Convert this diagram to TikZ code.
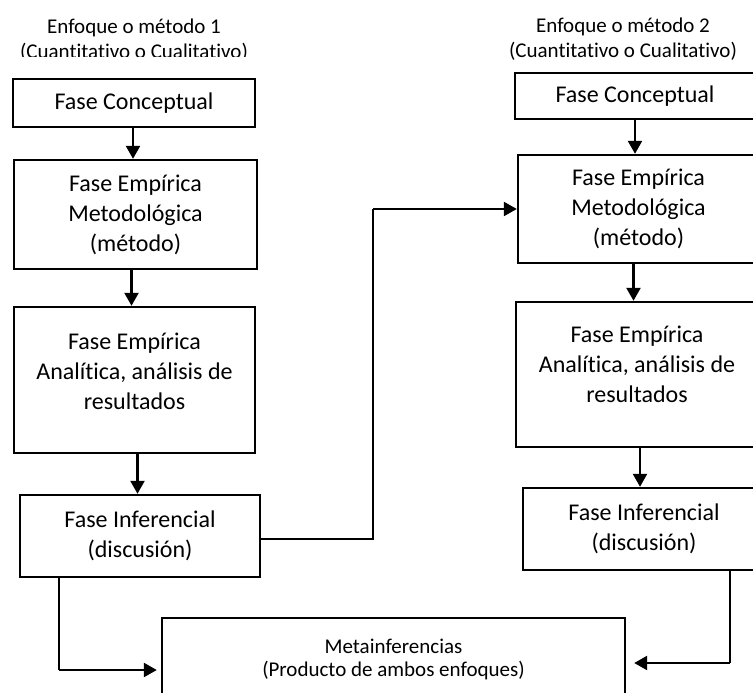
\documentclass[tikz,border=0pt]{standalone}
\usepackage{fontspec}
\setmainfont[Ligatures=NoCommon]{Carlito}
\usetikzlibrary{arrows.meta,positioning,calc}

\begin{document}
\begin{tikzpicture}[x=1pt, y=-1pt,
                    every phase/.style = {},
                    phase box/.style = {rectangle, draw=black, line width=2.4pt, inner sep=0pt, align=center, font=\fontsize{24}{30}\selectfont, every phase},
                    phase text/.style = {align=center, inner sep=0pt, font=\fontsize{24}{30}\selectfont},
                    title text/.style = {align=center, inner sep=0pt, font=\fontsize{21}{25}\selectfont},
                    flow/.style = {-{Triangle[length=13pt,width=14pt]}, line width=2.4pt},
                    link/.style = {line width=1.2pt}]
                \useasboundingbox (0,0) rectangle (753,693);
                \clip (0,0) rectangle (753,693);
                % titles
                \begin{scope}
                    \clip (0,0) rectangle (300,57);
                    \node at (134,40) [title text] (titleA) {Enfoque o método 1\\(Cuantitativo o Cualitativo)};
                \end{scope}
                \node at (623,39.5) [title text] (titleB) {Enfoque o método 2\\(Cuantitativo o Cualitativo)};
                % left column
                \node at (134,103) [phase box, minimum width=242pt, minimum height=48pt] (concA) {Fase Conceptual};
                \node at (135.5,214.5) [phase box, minimum width=243pt, minimum height=109pt] (empA) {Fase Empírica\\Metodológica\\(método)};
                \node at (134.5,380) [phase box, minimum width=241pt, minimum height=146pt,
                      label={[phase text, yshift=9pt]center:{Fase Empírica\\Analítica, análisis de\\resultados}}] (anaA) {};
                \node at (140,536) [phase box, minimum width=240pt, minimum height=82pt] (infA) {Fase Inferencial\\(discusión)};
                % right column
                \node at (635,96) [phase box, minimum width=240pt, minimum height=46pt] (concB) {Fase Conceptual};
                \node at (638.5,209) [phase box, minimum width=241pt, minimum height=108pt] (empB) {Fase Empírica\\Metodológica\\(método)};
                \node at (637,374.5) [phase box, minimum width=242pt, minimum height=145pt,
                      label={[phase text, yshift=10pt]center:{Fase Empírica\\Analítica, análisis de\\resultados}}] (anaB) {};
                \node at (644,529) [phase box, minimum width=242pt, minimum height=82pt] (infB) {Fase Inferencial\\(discusión)};
                % result
                \node at (393.5,659) [phase box, minimum width=463pt, minimum height=82pt, font=\fontsize{21}{23}\selectfont] (meta) {Metainferencias\\(Producto de ambos enfoques)};
                % vertical flow
                \draw[flow] ([xshift=-1pt]concA.south) -- ([xshift=-1pt]concA.south |- empA.north);
                \draw[flow] ([xshift=-4pt]empA.south) -- ([xshift=-4pt]empA.south |- anaA.north);
                \draw[flow] ([xshift=3pt]anaA.south) -- ([xshift=3pt]anaA.south |- infA.north);
                \draw[flow] (concB.south) -- (concB.south |- empB.north);
                \draw[flow] ([xshift=-5pt]empB.south) -- ([xshift=-5pt]empB.south |- anaB.north);
                \draw[flow] ([xshift=3pt]anaB.south) -- ([xshift=3pt]anaB.south |- infB.north);
                % cross and result connectors
                \coordinate (bendA) at (373,209);
                \coordinate (downA) at (59,670);
                \coordinate (downB) at (730,663);
                \draw[link] ([yshift=-3pt]infA.east) -| (bendA);
                \draw[flow] (bendA) -- (bendA -| empB.west);
                \draw[link] (infA.south -| downA) -- (downA);
                \draw[flow, shorten >=4pt] (downA) -- (downA -| meta.west);
                \draw[link] (infB.south -| downB) -- (downB);
                \draw[flow, shorten >=8pt] (downB) -- (downB -| meta.east);
            \end{tikzpicture}
\end{document}
